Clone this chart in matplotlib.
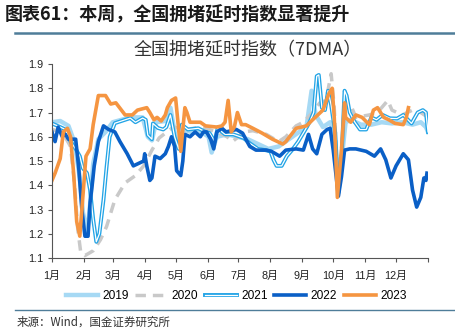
import matplotlib
matplotlib.use("Agg")
import matplotlib.pyplot as plt
import matplotlib.patheffects as pe
from matplotlib.lines import Line2D

plt.rcParams['font.family'] = ['Liberation Sans', 'Noto Sans CJK SC', 'DejaVu Sans']

title_main = "图表61：本周，全国拥堵延时指数显著提升"
chart_title = "全国拥堵延时指数（7DMA）"
source = "来源：Wind，国金证券研究所"

month_days = [0, 31, 59, 90, 120, 151, 181, 212, 243, 273, 304, 334, 365]
month_labels = ["1月", "2月", "3月", "4月", "5月", "6月", "7月", "8月", "9月", "10月", "11月", "12月", ""]
yticks = [1.1, 1.2, 1.3, 1.4, 1.5, 1.6, 1.7, 1.8, 1.9]

d19 = [0, 8, 16, 22, 27, 30, 34, 37, 40, 45, 52, 59, 76, 88, 93, 97, 101, 110, 115, 119,
       122, 127, 135, 145, 152, 155, 160, 170, 180, 190, 200, 210, 220, 230, 240, 247, 252, 256, 263, 270,
       274, 278, 281, 285, 290, 300, 310, 320, 330, 340, 350, 358, 363, 365]
v19 = [1.66, 1.665, 1.645, 1.575, 1.43, 1.29, 1.20, 1.32, 1.49, 1.59, 1.62, 1.66, 1.68, 1.68, 1.60, 1.585, 1.66, 1.665, 1.72, 1.62,
       1.56, 1.63, 1.62, 1.62, 1.60, 1.535, 1.60, 1.61, 1.60, 1.59, 1.57, 1.55, 1.56, 1.59, 1.62, 1.64, 1.79, 1.69, 1.64, 1.66,
       1.62, 1.37, 1.50, 1.66, 1.67, 1.65, 1.65, 1.66, 1.655, 1.66, 1.65, 1.66, 1.64, 1.62]

d20 = [0, 10, 18, 22, 25, 28, 32, 40, 47, 53, 61, 71, 81, 89, 97, 104, 110, 118, 130, 145,
       160, 170, 175, 181, 186, 195, 208, 220, 227, 237, 244, 253, 260, 266, 271, 274, 278, 281, 285, 290,
       295, 308, 316, 326, 330, 340, 350, 358, 365]
v20 = [1.63, 1.62, 1.56, 1.40, 1.22, 1.12, 1.11, 1.13, 1.175, 1.23, 1.34, 1.41, 1.44, 1.48, 1.545, 1.595, 1.615, 1.64, 1.63, 1.64,
       1.62, 1.60, 1.58, 1.60, 1.62, 1.625, 1.61, 1.58, 1.60, 1.645, 1.66, 1.70, 1.74, 1.75, 1.86, 1.72, 1.355, 1.55, 1.73, 1.73,
       1.68, 1.69, 1.70, 1.75, 1.71, 1.69, 1.71, 1.70, 1.68]

d21 = [0, 8, 13, 18, 23, 27, 30, 34, 37, 40, 43, 46, 50, 53, 56, 61, 76, 81, 88, 91,
       93, 97, 98, 103, 108, 111, 115, 119, 123, 126, 132, 142, 149, 153, 158, 161, 165, 168, 176, 186,
       192, 200, 207, 212, 215, 218, 223, 228, 233, 239, 246, 250, 254, 257, 259, 262, 265, 268, 271, 275,
       278, 281, 284, 286, 289, 294, 299, 305, 310, 315, 321, 328, 335, 341, 349, 355, 360, 363, 365]
v21 = [1.655, 1.64, 1.63, 1.58, 1.55, 1.52, 1.47, 1.45, 1.38, 1.26, 1.167, 1.20, 1.34, 1.476, 1.60, 1.656, 1.677, 1.66, 1.677, 1.67,
       1.607, 1.59, 1.655, 1.636, 1.63, 1.64, 1.69, 1.60, 1.55, 1.65, 1.63, 1.635, 1.62, 1.615, 1.58, 1.64, 1.62, 1.61, 1.61, 1.595,
       1.573, 1.55, 1.545, 1.54, 1.505, 1.48, 1.48, 1.52, 1.545, 1.58, 1.63, 1.66, 1.70, 1.85, 1.855, 1.72, 1.71, 1.79, 1.73, 1.615,
       1.37, 1.505, 1.79, 1.77, 1.70, 1.66, 1.63, 1.63, 1.68, 1.67, 1.69, 1.676, 1.675, 1.69, 1.655, 1.70, 1.71, 1.70, 1.62]

d22 = [0, 3, 6, 10, 13, 16, 19, 23, 26, 29, 32, 35, 37, 39, 41, 45, 50, 55, 61, 66,
       73, 79, 84, 89, 90, 92, 95, 97, 100, 105, 110, 113, 116, 119, 121, 125, 127, 129, 134, 139,
       144, 147, 150, 154, 157, 160, 165, 169, 179, 185, 192, 198, 208, 213, 221, 227, 237, 244, 249, 253,
       257, 262, 267, 270, 273, 278, 281, 284, 289, 295, 305, 313, 319, 324, 329, 334, 341, 346, 350, 354,
       358, 361, 363, 364]
v22 = [1.62, 1.58, 1.64, 1.60, 1.61, 1.59, 1.59, 1.59, 1.47, 1.30, 1.19, 1.19, 1.33, 1.40, 1.48, 1.58, 1.645, 1.63, 1.62, 1.58,
       1.53, 1.48, 1.49, 1.50, 1.53, 1.48, 1.42, 1.43, 1.52, 1.51, 1.53, 1.56, 1.60, 1.56, 1.46, 1.44, 1.50, 1.61, 1.60, 1.62,
       1.60, 1.62, 1.62, 1.59, 1.55, 1.62, 1.635, 1.62, 1.63, 1.615, 1.56, 1.545, 1.545, 1.54, 1.52, 1.545, 1.55, 1.545, 1.61, 1.55,
       1.53, 1.61, 1.63, 1.635, 1.545, 1.355, 1.435, 1.545, 1.55, 1.55, 1.54, 1.52, 1.55, 1.505, 1.43, 1.48, 1.53, 1.505, 1.38, 1.31,
       1.35, 1.43, 1.42, 1.45]

d23 = [0, 3, 8, 11, 15, 18, 21, 24, 27, 29, 33, 37, 40, 45, 52, 57, 62, 71, 78, 83,
       92, 95, 99, 102, 106, 110, 112, 116, 120, 125, 129, 131, 134, 144, 149, 160, 165, 168, 171, 174,
       177, 180, 184, 188, 195, 204, 214, 224, 227, 237, 247, 253, 263, 269, 272, 274, 277, 281, 284, 285,
       290, 295, 301, 308, 312, 316, 322, 327, 333, 341, 344, 346]
v23 = [1.42, 1.45, 1.51, 1.62, 1.635, 1.60, 1.45, 1.25, 1.19, 1.30, 1.52, 1.55, 1.65, 1.77, 1.77, 1.735, 1.74, 1.69, 1.69, 1.71,
       1.72, 1.70, 1.67, 1.68, 1.665, 1.69, 1.72, 1.75, 1.76, 1.54, 1.72, 1.70, 1.66, 1.66, 1.645, 1.64, 1.645, 1.66, 1.75, 1.62,
       1.64, 1.70, 1.65, 1.65, 1.635, 1.615, 1.59, 1.57, 1.58, 1.635, 1.645, 1.67, 1.71, 1.78, 1.80, 1.68, 1.35, 1.545, 1.74, 1.68,
       1.66, 1.69, 1.68, 1.65, 1.71, 1.72, 1.68, 1.67, 1.655, 1.65, 1.68, 1.72]

c19 = '#a6d9f4'
c20 = '#c9c9c9'
c21 = '#22a4e6'
c22 = '#0a5fc6'
c23 = '#f59541'

fig = plt.figure(figsize=(4.56, 3.34), dpi=100)
ax = fig.add_axes([0.114, 0.2275, 0.8246, 0.5808])

ax.plot(d19, v19, color=c19, lw=3.2, solid_joinstyle='round')
ax.plot(d20, v20, color=c20, lw=2.5, dashes=(3, 2))
l21, = ax.plot(d21, v21, color='white', lw=0.9)
l21.set_path_effects([pe.Stroke(linewidth=2.8, foreground=c21), pe.Normal()])
ax.plot(d22, v22, color=c22, lw=2.6, solid_joinstyle='round')
ax.plot(d23, v23, color=c23, lw=2.6, solid_joinstyle='round')

ax.set_xlim(0, 365)
ax.set_ylim(1.1, 1.9)
ax.set_xticks(month_days)
ax.set_xticklabels(month_labels)
ax.set_yticks(yticks)
ax.set_yticklabels([f"{t:.1f}" for t in yticks])
for s in ['top', 'right']:
    ax.spines[s].set_visible(False)
for s in ['left', 'bottom']:
    ax.spines[s].set_color('#555555')
    ax.spines[s].set_linewidth(0.8)
ax.tick_params(axis='both', direction='out', length=3, width=0.8, color='#555555',
               labelsize=7.8, labelcolor='#222222', pad=3)
ax.tick_params(axis='x', pad=6)

ax.set_title(chart_title, fontsize=13, color='#333333', pad=6,
             family=['Noto Sans CJK SC', 'DejaVu Sans'], x=0.52)

handles = [
    Line2D([], [], color=c19, lw=3.2),
    Line2D([], [], color=c20, lw=2.5, dashes=(3, 2)),
    Line2D([], [], color='white', lw=0.9,
           path_effects=[pe.Stroke(linewidth=2.8, foreground=c21), pe.Normal()]),
    Line2D([], [], color=c22, lw=2.6),
    Line2D([], [], color=c23, lw=2.6),
]
fig.legend(handles, ['2019', '2020', '2021', '2022', '2023'], loc='center',
           bbox_to_anchor=(236 / 456, 1 - 296 / 334), ncol=5, frameon=False,
           fontsize=8.6, handlelength=2.7, columnspacing=0.55, handletextpad=0.35)

fig.text(5 / 456, 1 - 15 / 334, title_main, fontsize=13, fontweight='bold',
         color='#1a1a1a', va='center', ha='left', family=['Noto Sans CJK SC', 'DejaVu Sans'])
fig.add_artist(Line2D([15 / 456, 1.0], [1 - 33 / 334, 1 - 33 / 334], color='#4f7d99', lw=1.8))
fig.add_artist(Line2D([15 / 456, 1.0], [1 - 310 / 334, 1 - 310 / 334], color='#4f7d99', lw=1.0))
fig.text(17 / 456, 1 - 322 / 334, source, fontsize=8.3, color='#333333', va='center', ha='left',
         family=['Noto Sans CJK SC', 'DejaVu Sans'])

fig.savefig('out.png', dpi=100)
